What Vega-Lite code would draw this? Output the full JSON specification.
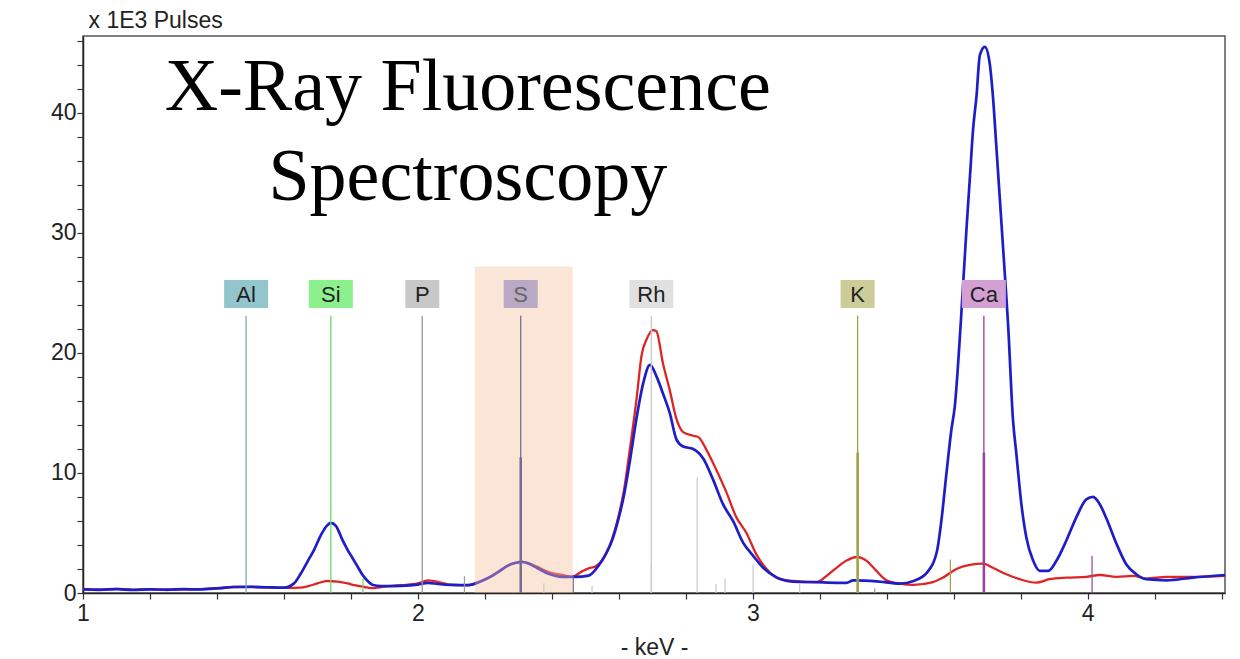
{
  "$schema": "https://vega.github.io/schema/vega-lite/v6.json",
  "width": 1142,
  "height": 557,
  "autosize": {"type": "none"},
  "padding": {"left": 83, "top": 36, "right": 15, "bottom": 66},
  "background": "white",
  "config": {
    "font": "Liberation Sans",
    "view": {"stroke": "#555555", "strokeWidth": 1.5}
  },
  "resolve": {"axis": {"x": "independent", "y": "independent"}},
  "datasets": {
    "spectra": [
      {"sample": "A", "keV": 1.00, "kPulses": 0.30}, {"sample": "A", "keV": 1.05, "kPulses": 0.28}, {"sample": "A", "keV": 1.10, "kPulses": 0.32}, {"sample": "A", "keV": 1.15, "kPulses": 0.25}, {"sample": "A", "keV": 1.20, "kPulses": 0.30}, {"sample": "A", "keV": 1.25, "kPulses": 0.28}, {"sample": "A", "keV": 1.30, "kPulses": 0.32}, {"sample": "A", "keV": 1.35, "kPulses": 0.30}, {"sample": "A", "keV": 1.40, "kPulses": 0.38}, {"sample": "A", "keV": 1.45, "kPulses": 0.50}, {"sample": "A", "keV": 1.50, "kPulses": 0.52}, {"sample": "A", "keV": 1.55, "kPulses": 0.48}, {"sample": "A", "keV": 1.60, "kPulses": 0.45},
      {"sample": "A", "keV": 1.63, "kPulses": 0.8}, {"sample": "A", "keV": 1.65, "kPulses": 1.6}, {"sample": "A", "keV": 1.67, "kPulses": 2.6}, {"sample": "A", "keV": 1.69, "kPulses": 3.6}, {"sample": "A", "keV": 1.71, "kPulses": 4.8}, {"sample": "A", "keV": 1.725, "kPulses": 5.5}, {"sample": "A", "keV": 1.74, "kPulses": 5.85}, {"sample": "A", "keV": 1.755, "kPulses": 5.6}, {"sample": "A", "keV": 1.775, "kPulses": 4.4}, {"sample": "A", "keV": 1.79, "kPulses": 3.6}, {"sample": "A", "keV": 1.805, "kPulses": 2.9}, {"sample": "A", "keV": 1.82, "kPulses": 2.2}, {"sample": "A", "keV": 1.835, "kPulses": 1.5}, {"sample": "A", "keV": 1.85, "kPulses": 1.0}, {"sample": "A", "keV": 1.866, "kPulses": 0.67}, {"sample": "A", "keV": 1.89, "kPulses": 0.58}, {"sample": "A", "keV": 1.95, "kPulses": 0.6}, {"sample": "A", "keV": 2.00, "kPulses": 0.7}, {"sample": "A", "keV": 2.03, "kPulses": 0.85}, {"sample": "A", "keV": 2.06, "kPulses": 0.75}, {"sample": "A", "keV": 2.10, "kPulses": 0.67}, {"sample": "A", "keV": 2.15, "kPulses": 0.65},
      {"sample": "A", "keV": 2.19, "kPulses": 1.0}, {"sample": "A", "keV": 2.22, "kPulses": 1.4}, {"sample": "A", "keV": 2.245, "kPulses": 1.85}, {"sample": "A", "keV": 2.27, "kPulses": 2.3}, {"sample": "A", "keV": 2.29, "kPulses": 2.5}, {"sample": "A", "keV": 2.31, "kPulses": 2.6}, {"sample": "A", "keV": 2.33, "kPulses": 2.45}, {"sample": "A", "keV": 2.355, "kPulses": 2.1}, {"sample": "A", "keV": 2.39, "kPulses": 1.6}, {"sample": "A", "keV": 2.43, "kPulses": 1.35}, {"sample": "A", "keV": 2.47, "kPulses": 1.35}, {"sample": "A", "keV": 2.51, "kPulses": 1.45}, {"sample": "A", "keV": 2.54, "kPulses": 2.3}, {"sample": "A", "keV": 2.56, "kPulses": 3.2}, {"sample": "A", "keV": 2.58, "kPulses": 4.4}, {"sample": "A", "keV": 2.60, "kPulses": 6.3}, {"sample": "A", "keV": 2.615, "kPulses": 8.1}, {"sample": "A", "keV": 2.633, "kPulses": 11.0}, {"sample": "A", "keV": 2.653, "kPulses": 14.6}, {"sample": "A", "keV": 2.673, "kPulses": 17.5}, {"sample": "A", "keV": 2.693, "kPulses": 19.0}, {"sample": "A", "keV": 2.713, "kPulses": 18.0}, {"sample": "A", "keV": 2.732, "kPulses": 16.6}, {"sample": "A", "keV": 2.752, "kPulses": 15.0}, {"sample": "A", "keV": 2.772, "kPulses": 12.8}, {"sample": "A", "keV": 2.792, "kPulses": 12.2}, {"sample": "A", "keV": 2.822, "kPulses": 12.0}, {"sample": "A", "keV": 2.852, "kPulses": 11.2}, {"sample": "A", "keV": 2.882, "kPulses": 9.4}, {"sample": "A", "keV": 2.911, "kPulses": 7.4}, {"sample": "A", "keV": 2.941, "kPulses": 6.0}, {"sample": "A", "keV": 2.971, "kPulses": 4.2}, {"sample": "A", "keV": 3.001, "kPulses": 3.1}, {"sample": "A", "keV": 3.031, "kPulses": 2.1}, {"sample": "A", "keV": 3.071, "kPulses": 1.3}, {"sample": "A", "keV": 3.12, "kPulses": 0.95}, {"sample": "A", "keV": 3.19, "kPulses": 0.9}, {"sample": "A", "keV": 3.25, "kPulses": 0.85}, {"sample": "A", "keV": 3.28, "kPulses": 0.85}, {"sample": "A", "keV": 3.30, "kPulses": 1.05}, {"sample": "A", "keV": 3.37, "kPulses": 0.97}, {"sample": "A", "keV": 3.44, "kPulses": 0.78}, {"sample": "A", "keV": 3.48, "kPulses": 1.0}, {"sample": "A", "keV": 3.52, "kPulses": 1.7}, {"sample": "A", "keV": 3.55, "kPulses": 3.5}, {"sample": "A", "keV": 3.563, "kPulses": 6.0}, {"sample": "A", "keV": 3.578, "kPulses": 9.9}, {"sample": "A", "keV": 3.593, "kPulses": 13.6}, {"sample": "A", "keV": 3.603, "kPulses": 15.5}, {"sample": "A", "keV": 3.621, "kPulses": 22.5}, {"sample": "A", "keV": 3.638, "kPulses": 30.3}, {"sample": "A", "keV": 3.648, "kPulses": 34.5}, {"sample": "A", "keV": 3.658, "kPulses": 38.7}, {"sample": "A", "keV": 3.668, "kPulses": 41.4}, {"sample": "A", "keV": 3.678, "kPulses": 44.8}, {"sample": "A", "keV": 3.693, "kPulses": 45.5}, {"sample": "A", "keV": 3.707, "kPulses": 44.2}, {"sample": "A", "keV": 3.717, "kPulses": 41.4}, {"sample": "A", "keV": 3.727, "kPulses": 37.3}, {"sample": "A", "keV": 3.737, "kPulses": 33.1}, {"sample": "A", "keV": 3.747, "kPulses": 28.9}, {"sample": "A", "keV": 3.757, "kPulses": 24.7}, {"sample": "A", "keV": 3.762, "kPulses": 22.5}, {"sample": "A", "keV": 3.777, "kPulses": 14.4}, {"sample": "A", "keV": 3.787, "kPulses": 11.6}, {"sample": "A", "keV": 3.802, "kPulses": 7.4}, {"sample": "A", "keV": 3.817, "kPulses": 4.6}, {"sample": "A", "keV": 3.837, "kPulses": 2.7}, {"sample": "A", "keV": 3.857, "kPulses": 1.84}, {"sample": "A", "keV": 3.882, "kPulses": 1.84}, {"sample": "A", "keV": 3.907, "kPulses": 2.7}, {"sample": "A", "keV": 3.936, "kPulses": 4.35}, {"sample": "A", "keV": 3.966, "kPulses": 6.3}, {"sample": "A", "keV": 3.996, "kPulses": 7.8}, {"sample": "A", "keV": 4.016, "kPulses": 8.0}, {"sample": "A", "keV": 4.036, "kPulses": 7.4}, {"sample": "A", "keV": 4.056, "kPulses": 6.2}, {"sample": "A", "keV": 4.086, "kPulses": 4.1}, {"sample": "A", "keV": 4.115, "kPulses": 2.4}, {"sample": "A", "keV": 4.145, "kPulses": 1.56}, {"sample": "A", "keV": 4.175, "kPulses": 1.15}, {"sample": "A", "keV": 4.235, "kPulses": 1.06}, {"sample": "A", "keV": 4.314, "kPulses": 1.28}, {"sample": "A", "keV": 4.41, "kPulses": 1.5},
      {"sample": "B", "keV": 1.00, "kPulses": 0.35}, {"sample": "B", "keV": 1.05, "kPulses": 0.25}, {"sample": "B", "keV": 1.10, "kPulses": 0.35}, {"sample": "B", "keV": 1.15, "kPulses": 0.28}, {"sample": "B", "keV": 1.20, "kPulses": 0.32}, {"sample": "B", "keV": 1.25, "kPulses": 0.25}, {"sample": "B", "keV": 1.30, "kPulses": 0.30}, {"sample": "B", "keV": 1.35, "kPulses": 0.33}, {"sample": "B", "keV": 1.40, "kPulses": 0.40}, {"sample": "B", "keV": 1.45, "kPulses": 0.50}, {"sample": "B", "keV": 1.50, "kPulses": 0.50}, {"sample": "B", "keV": 1.55, "kPulses": 0.45}, {"sample": "B", "keV": 1.60, "kPulses": 0.42}, {"sample": "B", "keV": 1.65, "kPulses": 0.45}, {"sample": "B", "keV": 1.67, "kPulses": 0.55}, {"sample": "B", "keV": 1.70, "kPulses": 0.8}, {"sample": "B", "keV": 1.73, "kPulses": 1.0}, {"sample": "B", "keV": 1.76, "kPulses": 0.95}, {"sample": "B", "keV": 1.79, "kPulses": 0.8}, {"sample": "B", "keV": 1.81, "kPulses": 0.65}, {"sample": "B", "keV": 1.84, "kPulses": 0.5}, {"sample": "B", "keV": 1.86, "kPulses": 0.4}, {"sample": "B", "keV": 1.89, "kPulses": 0.5}, {"sample": "B", "keV": 1.95, "kPulses": 0.65}, {"sample": "B", "keV": 2.00, "kPulses": 0.8}, {"sample": "B", "keV": 2.03, "kPulses": 1.05}, {"sample": "B", "keV": 2.07, "kPulses": 0.85}, {"sample": "B", "keV": 2.10, "kPulses": 0.67}, {"sample": "B", "keV": 2.15, "kPulses": 0.65},
      {"sample": "B", "keV": 2.19, "kPulses": 1.0}, {"sample": "B", "keV": 2.22, "kPulses": 1.4}, {"sample": "B", "keV": 2.245, "kPulses": 1.85}, {"sample": "B", "keV": 2.27, "kPulses": 2.3}, {"sample": "B", "keV": 2.29, "kPulses": 2.5}, {"sample": "B", "keV": 2.31, "kPulses": 2.6}, {"sample": "B", "keV": 2.33, "kPulses": 2.5}, {"sample": "B", "keV": 2.355, "kPulses": 2.2}, {"sample": "B", "keV": 2.39, "kPulses": 1.75}, {"sample": "B", "keV": 2.43, "kPulses": 1.5}, {"sample": "B", "keV": 2.46, "kPulses": 1.35}, {"sample": "B", "keV": 2.49, "kPulses": 1.8}, {"sample": "B", "keV": 2.51, "kPulses": 2.05}, {"sample": "B", "keV": 2.53, "kPulses": 2.2}, {"sample": "B", "keV": 2.555, "kPulses": 2.9}, {"sample": "B", "keV": 2.58, "kPulses": 4.5}, {"sample": "B", "keV": 2.60, "kPulses": 6.5}, {"sample": "B", "keV": 2.615, "kPulses": 8.5}, {"sample": "B", "keV": 2.633, "kPulses": 12.0}, {"sample": "B", "keV": 2.653, "kPulses": 16.2}, {"sample": "B", "keV": 2.668, "kPulses": 19.8}, {"sample": "B", "keV": 2.684, "kPulses": 21.2}, {"sample": "B", "keV": 2.702, "kPulses": 21.9}, {"sample": "B", "keV": 2.712, "kPulses": 21.8}, {"sample": "B", "keV": 2.732, "kPulses": 19.1}, {"sample": "B", "keV": 2.752, "kPulses": 16.9}, {"sample": "B", "keV": 2.772, "kPulses": 14.5}, {"sample": "B", "keV": 2.792, "kPulses": 13.4}, {"sample": "B", "keV": 2.822, "kPulses": 13.1}, {"sample": "B", "keV": 2.837, "kPulses": 13.0}, {"sample": "B", "keV": 2.862, "kPulses": 11.9}, {"sample": "B", "keV": 2.892, "kPulses": 10.2}, {"sample": "B", "keV": 2.921, "kPulses": 8.4}, {"sample": "B", "keV": 2.951, "kPulses": 6.3}, {"sample": "B", "keV": 2.981, "kPulses": 5.0}, {"sample": "B", "keV": 3.011, "kPulses": 3.2}, {"sample": "B", "keV": 3.041, "kPulses": 2.0}, {"sample": "B", "keV": 3.081, "kPulses": 1.15}, {"sample": "B", "keV": 3.12, "kPulses": 1.0}, {"sample": "B", "keV": 3.19, "kPulses": 0.9}, {"sample": "B", "keV": 3.22, "kPulses": 1.42}, {"sample": "B", "keV": 3.25, "kPulses": 2.1}, {"sample": "B", "keV": 3.28, "kPulses": 2.7}, {"sample": "B", "keV": 3.311, "kPulses": 3.0}, {"sample": "B", "keV": 3.339, "kPulses": 2.7}, {"sample": "B", "keV": 3.369, "kPulses": 1.84}, {"sample": "B", "keV": 3.399, "kPulses": 1.06}, {"sample": "B", "keV": 3.439, "kPulses": 0.78}, {"sample": "B", "keV": 3.479, "kPulses": 0.67}, {"sample": "B", "keV": 3.538, "kPulses": 0.9}, {"sample": "B", "keV": 3.568, "kPulses": 1.28}, {"sample": "B", "keV": 3.608, "kPulses": 2.0}, {"sample": "B", "keV": 3.648, "kPulses": 2.34}, {"sample": "B", "keV": 3.688, "kPulses": 2.45}, {"sample": "B", "keV": 3.717, "kPulses": 2.1}, {"sample": "B", "keV": 3.757, "kPulses": 1.56}, {"sample": "B", "keV": 3.797, "kPulses": 1.15}, {"sample": "B", "keV": 3.846, "kPulses": 0.86}, {"sample": "B", "keV": 3.886, "kPulses": 1.15}, {"sample": "B", "keV": 3.936, "kPulses": 1.28}, {"sample": "B", "keV": 3.996, "kPulses": 1.34}, {"sample": "B", "keV": 4.036, "kPulses": 1.5}, {"sample": "B", "keV": 4.086, "kPulses": 1.34}, {"sample": "B", "keV": 4.136, "kPulses": 1.42}, {"sample": "B", "keV": 4.175, "kPulses": 1.2}, {"sample": "B", "keV": 4.235, "kPulses": 1.34}, {"sample": "B", "keV": 4.314, "kPulses": 1.34}, {"sample": "B", "keV": 4.41, "kPulses": 1.42}
    ],
    "elements": [
      {"element": "Al", "keV": 1.487},
      {"element": "Si", "keV": 1.740},
      {"element": "P", "keV": 2.013},
      {"element": "S", "keV": 2.307},
      {"element": "Rh", "keV": 2.697},
      {"element": "K", "keV": 3.313},
      {"element": "Ca", "keV": 3.690}
    ],
    "lines": [
      {"element": "Si", "keV": 1.836, "kPulses": 1.2},
      {"element": "P", "keV": 2.139, "kPulses": 1.4},
      {"element": "Rh", "keV": 2.376, "kPulses": 0.8},
      {"element": "S", "keV": 2.464, "kPulses": 1.4},
      {"element": "Rh", "keV": 2.52, "kPulses": 0.6},
      {"element": "Rh", "keV": 2.697, "kPulses": 2.5},
      {"element": "Rh", "keV": 2.834, "kPulses": 9.6},
      {"element": "Rh", "keV": 2.89, "kPulses": 0.75},
      {"element": "Rh", "keV": 2.917, "kPulses": 1.2},
      {"element": "Rh", "keV": 3.001, "kPulses": 2.4},
      {"element": "Rh", "keV": 3.14, "kPulses": 0.8},
      {"element": "P", "keV": 3.364, "kPulses": 0.4},
      {"element": "K", "keV": 3.590, "kPulses": 2.8},
      {"element": "Ca", "keV": 4.013, "kPulses": 3.1},
      {"element": "S", "keV": 2.307, "kPulses": 11.3},
      {"element": "K", "keV": 3.313, "kPulses": 11.7},
      {"element": "Ca", "keV": 3.690, "kPulses": 11.7}
    ],
    "region": [{"element": "S", "keV": 2.17, "keV_end": 2.462}],
    "caption": [{"text": "X-Ray Fluorescence\nSpectroscopy"}]
  },
  "layer": [
    {
      "data": {"name": "spectra"},
      "transform": [{"filter": "datum.sample === 'B'"}],
      "mark": {"type": "line", "color": "#e02424", "strokeWidth": 2.3, "interpolate": "monotone"},
      "encoding": {
        "x": {
          "field": "keV", "type": "quantitative",
          "scale": {"domain": [1, 4.41], "nice": false, "zero": false},
          "axis": {
            "orient": "bottom",
            "title": "- keV -",
            "values": [1, 2, 3, 4],
            "format": "d",
            "grid": false,
            "domainColor": "#222", "domainWidth": 1.5,
            "tickColor": "#333", "tickSize": 6, "tickWidth": 1.2,
            "labelFontSize": 23, "labelColor": "#222", "labelPadding": 3, "labelFlush": false,
            "titleFontSize": 23, "titleFontWeight": "normal", "titleColor": "#222", "titlePadding": 11
          }
        },
        "y": {
          "field": "kPulses", "type": "quantitative",
          "scale": {"domain": [0, 46.4], "nice": false},
          "axis": {
            "orient": "left",
            "title": "x 1E3 Pulses",
            "values": [0, 10, 20, 30, 40],
            "format": "d",
            "grid": false,
            "domainColor": "#222", "domainWidth": 1.5,
            "tickColor": "#333", "tickSize": 6, "tickWidth": 1.2,
            "labelFontSize": 23, "labelColor": "#222", "labelPadding": 1,
            "titleAngle": 0, "titleAlign": "left", "titleBaseline": "middle",
            "titleX": 5, "titleY": -16,
            "titleFontSize": 23, "titleFontWeight": "normal", "titleColor": "#222"
          }
        }
      }
    },
    {
      "data": {"name": "spectra"},
      "transform": [{"filter": "datum.sample === 'A'"}],
      "mark": {"type": "line", "color": "#1e1ec8", "strokeWidth": 2.7, "interpolate": "monotone"},
      "encoding": {
        "x": {"field": "keV", "type": "quantitative",
          "axis": {"orient": "bottom", "title": null, "labels": false, "domain": false, "grid": false,
            "values": [1.2, 1.4, 1.6, 1.8, 2.2, 2.4, 2.6, 2.8, 3.2, 3.4, 3.6, 3.8, 4.2, 4.4],
            "tickColor": "#333", "tickSize": 6, "tickWidth": 1.2}},
        "y": {"field": "kPulses", "type": "quantitative",
          "axis": {"orient": "left", "title": null, "labels": false, "domain": false, "grid": false,
            "values": [2, 4, 6, 8, 12, 14, 16, 18, 22, 24, 26, 28, 32, 34, 36, 38, 42, 44, 46],
            "tickColor": "#333", "tickSize": 6, "tickWidth": 1.2}}
      }
    },
    {
      "data": {"name": "region"},
      "mark": {"type": "rect", "fill": "#f5be98", "opacity": 0.4},
      "encoding": {
        "x": {"field": "keV", "type": "quantitative", "axis": null},
        "x2": {"field": "keV_end"},
        "y": {"datum": 0, "axis": null},
        "y2": {"datum": 27.2}
      }
    },
    {
      "data": {"name": "elements"},
      "mark": {"type": "rule", "strokeWidth": 1.3},
      "encoding": {
        "x": {"field": "keV", "type": "quantitative", "axis": null},
        "y": {"datum": 0, "axis": null},
        "y2": {"datum": 23.1},
        "stroke": {"field": "element", "type": "nominal", "legend": null,
          "scale": {"domain": ["Al", "Si", "P", "S", "Rh", "K", "Ca"], "range": ["#7aaabb", "#66dd66", "#999999", "#7a6a90", "#c8c8c8", "#a0a040", "#9a3f9a"]}}
      }
    },
    {
      "data": {"name": "lines"},
      "transform": [{"filter": "datum.kPulses < 11"}],
      "mark": {"type": "rule", "strokeWidth": 1.2},
      "encoding": {
        "x": {"field": "keV", "type": "quantitative", "axis": null},
        "y": {"field": "kPulses", "type": "quantitative", "axis": null},
        "y2": {"datum": 0},
        "stroke": {"field": "element", "type": "nominal", "legend": null,
          "scale": {"domain": ["Al", "Si", "P", "S", "Rh", "K", "Ca"], "range": ["#7aaabb", "#66dd66", "#a8b4c4", "#4a3a60", "#c8c8c8", "#a0a040", "#8a6a8a"]}}
      }
    },
    {
      "data": {"name": "lines"},
      "transform": [{"filter": "datum.kPulses >= 11"}],
      "mark": {"type": "rule", "strokeWidth": 2.5},
      "encoding": {
        "x": {"field": "keV", "type": "quantitative", "axis": null},
        "y": {"field": "kPulses", "type": "quantitative", "axis": null},
        "y2": {"datum": 0},
        "stroke": {"field": "element", "type": "nominal", "legend": null,
          "scale": {"domain": ["Al", "Si", "P", "S", "Rh", "K", "Ca"], "range": ["#7aaabb", "#66dd66", "#999999", "#6a5a88", "#c8c8c8", "#8a8a20", "#993399"]}}
      }
    },
    {
      "data": {"name": "elements"},
      "transform": [{"filter": "length(datum.element) === 1"}],
      "mark": {"type": "rect", "width": 34, "height": 28},
      "encoding": {
        "x": {"field": "keV", "type": "quantitative", "axis": null},
        "y": {"datum": 24.9, "axis": null},
        "fill": {"field": "element", "type": "nominal", "legend": null,
          "scale": {"domain": ["Al", "Si", "P", "S", "Rh", "K", "Ca"], "range": ["#92c5cc", "#8cf08c", "#c8c8c8", "#b9a9c4", "#e0e0e0", "#cccc99", "#d4a0d4"]}}
      }
    },
    {
      "data": {"name": "elements"},
      "transform": [{"filter": "length(datum.element) === 2"}],
      "mark": {"type": "rect", "width": 44, "height": 28},
      "encoding": {
        "x": {"field": "keV", "type": "quantitative", "axis": null},
        "y": {"datum": 24.9, "axis": null},
        "fill": {"field": "element", "type": "nominal", "legend": null,
          "scale": {"domain": ["Al", "Si", "P", "S", "Rh", "K", "Ca"], "range": ["#92c5cc", "#8cf08c", "#c8c8c8", "#b9a9c4", "#e0e0e0", "#cccc99", "#d4a0d4"]}}
      }
    },
    {
      "data": {"name": "elements"},
      "mark": {"type": "text", "fontSize": 22, "align": "center", "baseline": "middle", "dy": 1},
      "encoding": {
        "x": {"field": "keV", "type": "quantitative", "axis": null},
        "y": {"datum": 24.9, "axis": null},
        "text": {"field": "element"},
        "color": {"condition": {"test": "datum.element === 'S'", "value": "#666666"}, "value": "#222222"}
      }
    },
    {
      "data": {"name": "caption"},
      "mark": {"type": "text", "font": "Liberation Serif", "fontSize": 74, "lineHeight": 90, "lineBreak": "\n", "align": "center", "baseline": "alphabetic", "color": "black"},
      "encoding": {
        "x": {"datum": 2.149, "axis": null},
        "y": {"datum": 40.25, "axis": null},
        "text": {"field": "text"}
      }
    }
  ]
}
